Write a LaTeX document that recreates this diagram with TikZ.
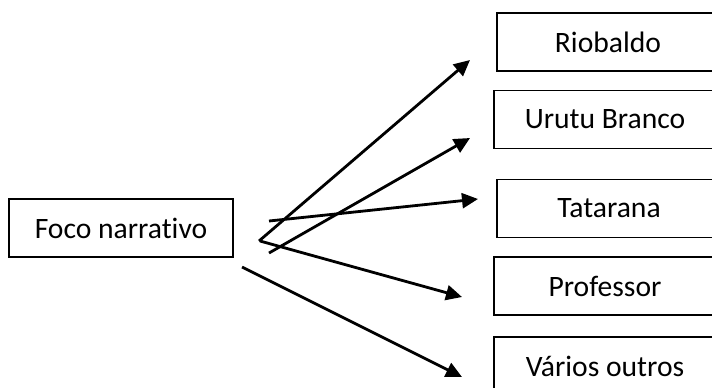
\documentclass[tikz,border=0pt]{standalone}
\usepackage{fontspec}
\setmainfont{Carlito}[Ligatures={NoCommon}]
\usetikzlibrary{arrows.meta}
\begin{document}
\begin{tikzpicture}[x=0.5pt,y=-0.5pt]
    \tikzstyle{every node}+=[inner sep=0pt]
    \tikzstyle{caixa}=[draw=black, line width=0.8pt, minimum width=111pt, minimum height=29pt, font=\fontsize{14.8}{17}\selectfont]
    \tikzstyle{seta}=[black, line width=1.4pt, -{Triangle[length=8pt,width=7.5pt]}]
    \clip (0,0) rectangle (712,387);
    \node [caixa, minimum width=112pt] (foco) at (121,228) {Foco narrativo};
    \node [caixa] (rio) at (608,42) {Riobaldo};
    \node [caixa] (urutu) at (605,119.5) {Urutu Branco};
    \node [caixa, minimum width=112pt] (tata) at (609,208.5) {Tatarana};
    \node [caixa] (prof) at (605,286) {Professor};
    \node [caixa] (varios) at (605,366) {Vários outros};
    \coordinate (s1) at (259,241);
    \coordinate (s2) at (269,253);
    \coordinate (s3) at (269,221);
    \coordinate (s4) at (260,241);
    \coordinate (s5) at (242,267);
    \coordinate (e1) at (470,60);
    \coordinate (e2) at (470,138);
    \coordinate (e3) at (478,199);
    \coordinate (e4) at (462,297);
    \coordinate (e5) at (462,377);
    \draw [seta] (s1) -- (e1);
    \draw [seta] (s2) -- (e2);
    \draw [seta] (s3) -- (e3);
    \draw [seta] (s4) -- (e4);
    \draw [seta] (s5) -- (e5);
\end{tikzpicture}
\end{document}
